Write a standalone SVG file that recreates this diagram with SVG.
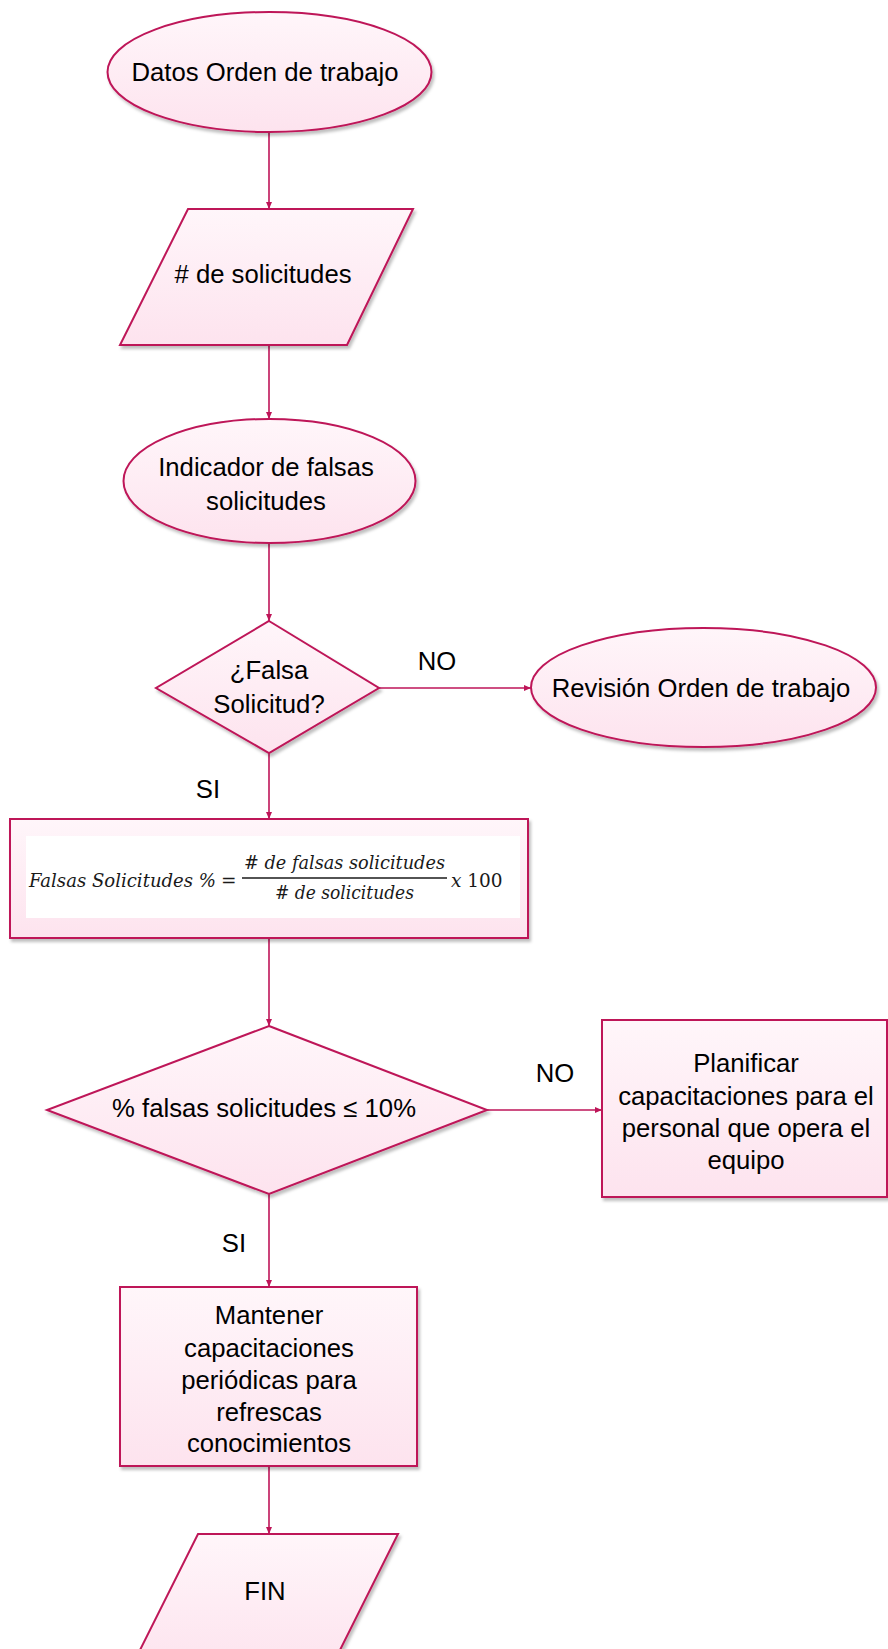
<svg xmlns="http://www.w3.org/2000/svg" width="888" height="1649" viewBox="0 0 888 1649">
<defs>
<linearGradient id="pink" x1="0" y1="0" x2="0" y2="1">
<stop offset="0" stop-color="#fff6fa"/>
<stop offset="1" stop-color="#fde3ee"/>
</linearGradient>
<filter id="sh" x="-10%" y="-10%" width="125%" height="125%">
<feDropShadow dx="2" dy="3" stdDeviation="1.5" flood-color="#000" flood-opacity="0.25"/>
</filter>
<marker id="arr" markerWidth="8" markerHeight="8" refX="7" refY="4" orient="auto" markerUnits="userSpaceOnUse">
<path d="M0,1 L7,4 L0,7 Z" fill="#be1558"/>
</marker>
</defs>
<style>
.s{fill:url(#pink);stroke:#be1558;stroke-width:2;filter:url(#sh)}
.t{font-family:"Liberation Sans",Arial,sans-serif;font-size:25.7px;fill:#000;text-anchor:middle}
.c{stroke:#be1558;stroke-width:1.6;fill:none;marker-end:url(#arr)}
.m{font-family:"DejaVu Serif","Liberation Serif",serif;font-style:italic;font-size:18.5px;fill:#1a1a1a}
</style>
<rect width="888" height="1649" fill="#fff"/>
<g id="connectors">
<line class="c" x1="269" y1="132" x2="269" y2="209"/>
<line class="c" x1="269" y1="345" x2="269" y2="419"/>
<line class="c" x1="269" y1="543" x2="269" y2="621"/>
<line class="c" x1="379" y1="688" x2="531" y2="688"/>
<line class="c" x1="269" y1="753" x2="269" y2="819"/>
<line class="c" x1="269" y1="938" x2="269" y2="1026"/>
<line class="c" x1="487" y1="1110" x2="602" y2="1110"/>
<line class="c" x1="269" y1="1194" x2="269" y2="1287"/>
<line class="c" x1="269" y1="1466" x2="269" y2="1534"/>
<text class="t" x="437" y="670">NO</text>
<text class="t" x="208" y="798">SI</text>
<text class="t" x="555" y="1082">NO</text>
<text class="t" x="234" y="1252">SI</text>
</g>
<g id="n1">
<ellipse class="s" cx="269.5" cy="72" rx="162" ry="60"/>
<text class="t" x="265" y="81">Datos Orden de trabajo</text>
</g>
<g id="n2">
<polygon class="s" points="188,209 413,209 347,345 120,345"/>
<text class="t" x="263" y="283"># de solicitudes</text>
</g>
<g id="n3">
<ellipse class="s" cx="269.5" cy="481" rx="146" ry="62"/>
<text class="t" x="266" y="476">Indicador de falsas</text>
<text class="t" x="266" y="510">solicitudes</text>
</g>
<g id="n4">
<polygon class="s" points="269,621 379,688 269,753 156,688"/>
<text class="t" x="269" y="679">¿Falsa</text>
<text class="t" x="269" y="713">Solicitud?</text>
</g>
<g id="n5">
<ellipse class="s" cx="703.5" cy="687.5" rx="172.5" ry="59.5"/>
<text class="t" x="701" y="697">Revisión Orden de trabajo</text>
</g>
<g id="n6">
<rect class="s" x="10" y="819" width="518" height="119"/>
<rect x="26" y="836" width="494" height="82" fill="#fff"/>
<text class="m" x="29" y="887" textLength="187" lengthAdjust="spacingAndGlyphs">Falsas Solicitudes %</text>
<text class="m" x="221" y="887" font-style="normal">=</text>
<text class="m" x="244" y="869" textLength="201" lengthAdjust="spacingAndGlyphs"># de falsas solicitudes</text>
<line x1="242" y1="878" x2="447" y2="878" stroke="#1a1a1a" stroke-width="1.4"/>
<text class="m" x="275" y="899" textLength="139" lengthAdjust="spacingAndGlyphs"># de solicitudes</text>
<text class="m" x="451" y="887">x <tspan font-style="normal">100</tspan></text>
</g>
<g id="n7">
<polygon class="s" points="269,1026 487,1110 269,1194 47,1110"/>
<text class="t" x="264" y="1117">% falsas solicitudes ≤ 10%</text>
</g>
<g id="n8">
<rect class="s" x="602" y="1020" width="285" height="177"/>
<text class="t" x="746" y="1072">Planificar</text>
<text class="t" x="746" y="1105">capacitaciones para el</text>
<text class="t" x="746" y="1137">personal que opera el</text>
<text class="t" x="746" y="1169">equipo</text>
</g>
<g id="n9">
<rect class="s" x="120" y="1287" width="297" height="179"/>
<text class="t" x="269" y="1324">Mantener</text>
<text class="t" x="269" y="1357">capacitaciones</text>
<text class="t" x="269" y="1389">periódicas para</text>
<text class="t" x="269" y="1421">refrescas</text>
<text class="t" x="269" y="1452">conocimientos</text>
</g>
<g id="n10">
<polygon class="s" points="198,1534 398,1534 330,1670 130,1670"/>
<text class="t" x="265" y="1600">FIN</text>
</g>
</svg>
